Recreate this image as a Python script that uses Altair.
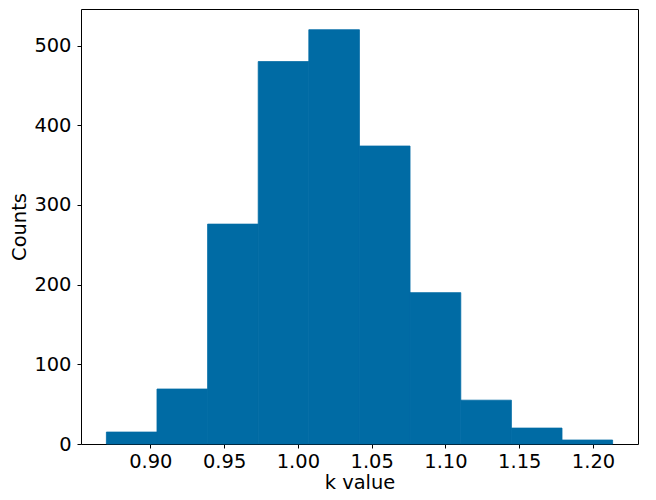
import altair as alt
import pandas as pd

bin_start = [0.8702, 0.9045, 0.9388, 0.9731, 1.0074, 1.0417, 1.0760, 1.1104, 1.1447, 1.1790]
bin_end = [0.9045, 0.9388, 0.9731, 1.0074, 1.0417, 1.0760, 1.1104, 1.1447, 1.1790, 1.2133]
counts = [15, 69, 276, 480, 520, 374, 190, 55, 20, 5]

x_ticks = [0.90, 0.95, 1.00, 1.05, 1.10, 1.15, 1.20]
y_ticks = [0, 100, 200, 300, 400, 500]

df = pd.DataFrame({"start": bin_start, "end": bin_end, "count": counts})

font = "DejaVu Sans"

chart = (
    alt.Chart(df)
    .mark_rect(color="#006BA4", stroke="#006BA4", strokeWidth=0.8)
    .encode(
        x=alt.X(
            "start:Q",
            scale=alt.Scale(domain=[0.8530, 1.2305], nice=False, zero=False),
            axis=alt.Axis(
                title="k value",
                values=x_ticks,
                format=".2f",
                grid=False,
                domain=False,
                tickSize=4,
                labelPadding=4,
                titlePadding=3,
            ),
        ),
        x2="end:Q",
        y=alt.Y(
            "count:Q",
            scale=alt.Scale(domain=[0, 546], nice=False),
            axis=alt.Axis(
                title="Counts",
                values=y_ticks,
                grid=False,
                domain=False,
                tickSize=4,
                labelPadding=6,
                titlePadding=4,
            ),
        ),
        y2=alt.datum(0),
    )
    .properties(width=557, height=435, padding={"left": 1, "top": 1, "right": 5, "bottom": 5})
    .configure_view(stroke="#000000", strokeWidth=1)
    .configure_axis(
        labelFont=font,
        titleFont=font,
        labelFontSize=19.44,
        titleFontSize=19.44,
        labelColor="#000000",
        titleColor="#000000",
        tickColor="#000000",
        titleFontWeight="normal",
    )
)

chart.save("out.html", embed_options={"renderer": "svg", "actions": False})
